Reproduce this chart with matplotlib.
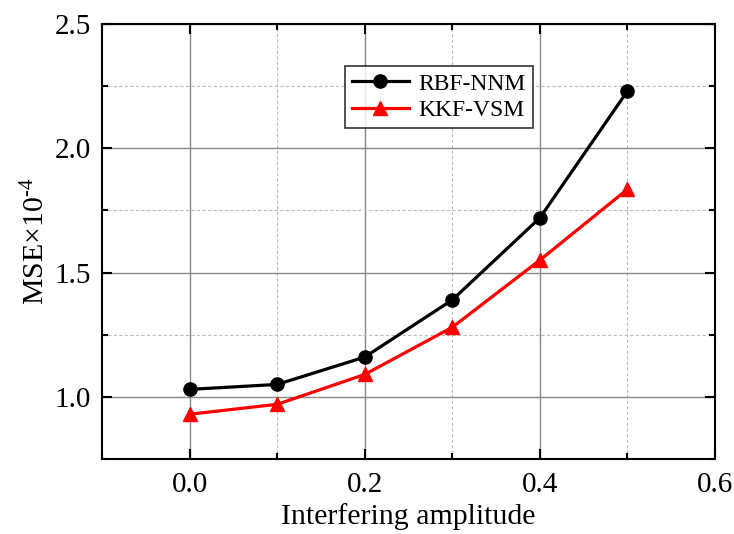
import matplotlib
matplotlib.use("Agg")
import matplotlib.pyplot as plt
from matplotlib.ticker import MultipleLocator

amplitude = [0.0, 0.1, 0.2, 0.3, 0.4, 0.5]
rbf_nnm = [1.03, 1.05, 1.16, 1.39, 1.72, 2.23]
kkf_vsm = [0.93, 0.97, 1.09, 1.28, 1.55, 1.835]

plt.rcParams['font.family'] = ['Liberation Serif', 'DejaVu Serif']
plt.rcParams['mathtext.fontset'] = 'custom'
plt.rcParams['mathtext.rm'] = 'Liberation Serif'
plt.rcParams['mathtext.it'] = 'Liberation Serif:italic'

fig = plt.figure(figsize=(7.34, 5.34), dpi=100)
ax = fig.add_axes([102/734, 1 - 459/534, (715-102)/734, (459-24)/534])

ax.plot(amplitude, rbf_nnm, color='black', lw=2.3, marker='o', ms=9.5, label='RBF-NNM', zorder=3)
ax.plot(amplitude, kkf_vsm, color='red', lw=2.3, marker='^', ms=9.5, label='KKF-VSM', zorder=3)

ax.set_xlim(-0.1, 0.6)
ax.set_ylim(0.75, 2.5)
ax.xaxis.set_minor_locator(MultipleLocator(0.1))
ax.yaxis.set_minor_locator(MultipleLocator(0.25))
ax.set_xticks([0.0, 0.2, 0.4, 0.6])
ax.set_yticks([1.0, 1.5, 2.0, 2.5])

ax.grid(which='major', color='#888888', lw=1.0, ls='-')
ax.grid(which='minor', color='#bbbbbb', lw=0.8, ls=(0, (3, 2)))
ax.set_axisbelow(True)

ax.tick_params(which='both', direction='in', top=True, right=True, labelsize=21, width=1.5)
ax.tick_params(which='major', length=7)
ax.tick_params(which='minor', length=4)
ax.tick_params(axis='x', pad=9)
ax.tick_params(axis='y', pad=8)
for s in ax.spines.values():
    s.set_linewidth(1.5)

ax.set_xlabel('Interfering amplitude', fontsize=21.5, labelpad=4)
ax.set_ylabel(r'MSE$\times$10$^{\mathrm{\text{-4}}}$', fontsize=21.5, labelpad=3)

leg = ax.legend(loc='upper left', bbox_to_anchor=((345-102)/613, 1 - (66-24)/435),
                fontsize=17, frameon=True, fancybox=False, edgecolor='black',
                handlelength=2.4, borderpad=0.3, labelspacing=0.2, handletextpad=0.4,
                borderaxespad=0)
leg.get_frame().set_linewidth(1.2)

fig.savefig('out.png', dpi=100)
